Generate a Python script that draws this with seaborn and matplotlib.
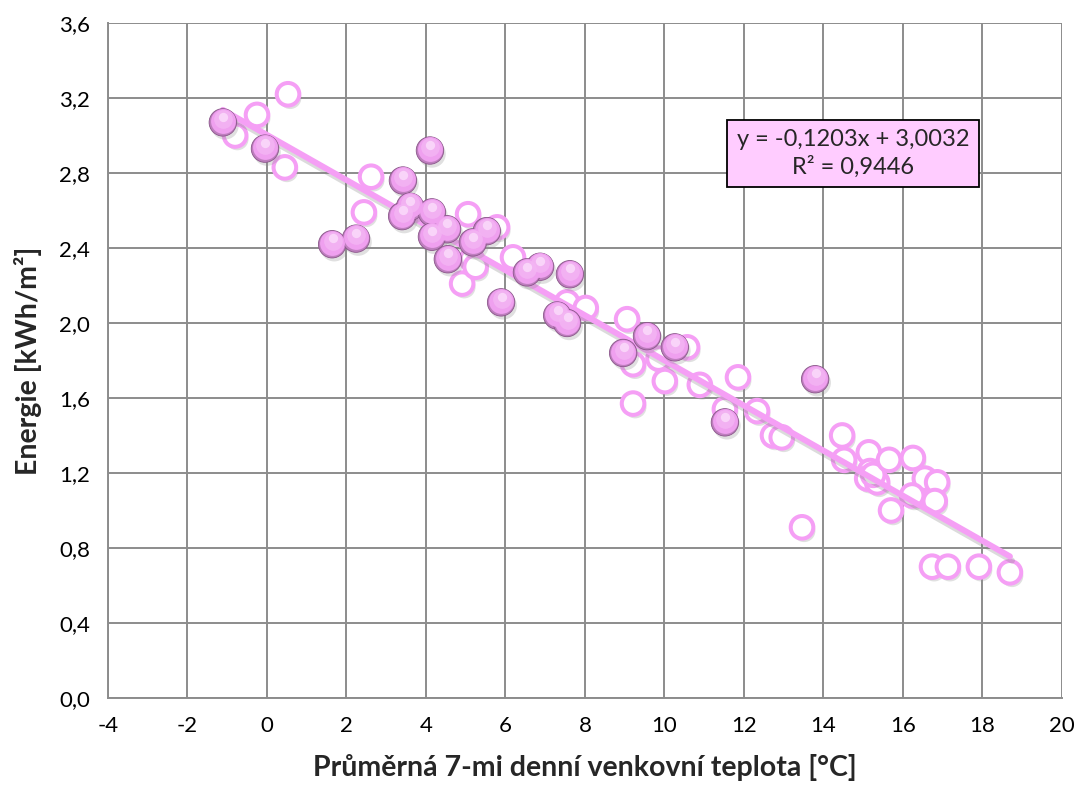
import matplotlib
matplotlib.use("Agg")
import matplotlib.pyplot as plt
import matplotlib.patheffects as pe
from matplotlib.transforms import offset_copy
import numpy as np
import pandas as pd
import seaborn as sns

# Measured weeks (filled spheres)
filled_t = [-1.11, -0.05, 4.10, 3.42, 3.40, 3.60, 4.15, 4.53, 4.15, 5.18, 5.53, 4.55,
            1.64, 2.24, 5.89, 6.87, 6.54, 7.62, 7.30, 7.55, 8.96, 9.56, 10.26, 11.52, 13.79]
filled_e = [3.07, 2.93, 2.92, 2.76, 2.57, 2.62, 2.59, 2.50, 2.46, 2.43, 2.49, 2.34,
            2.42, 2.45, 2.11, 2.30, 2.27, 2.26, 2.04, 2.00, 1.84, 1.93, 1.87, 1.47, 1.70]

# Remaining weeks (open circles)
open_t = [0.53, -0.25, -0.80, 0.45, 2.62, 2.44, 5.06, 4.91, 5.15, 5.25, 5.79, 6.19,
          7.55, 8.02, 9.06, 9.21, 10.01, 9.21, 9.85, 10.57, 10.89, 11.85, 11.52, 12.33,
          12.73, 12.95, 14.47, 14.52, 15.14, 15.17, 15.10, 15.35, 15.25, 15.65, 16.25,
          16.55, 16.86, 16.23, 16.80, 15.70, 13.46, 16.73, 17.13, 17.91, 18.69]
open_e = [3.22, 3.11, 3.00, 2.83, 2.78, 2.59, 2.58, 2.21, 2.34, 2.30, 2.51, 2.35,
          2.11, 2.08, 2.02, 1.78, 1.69, 1.57, 1.81, 1.87, 1.67, 1.71, 1.54, 1.53,
          1.40, 1.39, 1.40, 1.27, 1.31, 1.21, 1.17, 1.15, 1.19, 1.27, 1.28,
          1.17, 1.15, 1.08, 1.05, 1.00, 0.91, 0.70, 0.70, 0.70, 0.67]

# Linear trend reported for the whole season
slope = -0.1203
intercept = 3.0032
r2 = 0.9446

x_ticks = list(range(-4, 21, 2))
y_ticks = [0.0, 0.4, 0.8, 1.2, 1.6, 2.0, 2.4, 2.8, 3.2, 3.6]

sns.set_theme(style="white")
plt.rcParams["font.family"] = ["Lato", "DejaVu Sans"]

pink = "#F59FF5"
grid_col = "#8C8C8C"

fig = plt.figure(figsize=(10.86, 7.94), dpi=100)
ax = fig.add_axes([0.0994, 0.121, 0.8785, 0.850])

df_f = pd.DataFrame({"t": filled_t, "e": filled_e})
df_o = pd.DataFrame({"t": open_t, "e": open_e})

shadow = [pe.SimplePatchShadow(offset=(1.5, -2.5), shadow_rgbFace="#909090", alpha=0.28), pe.Normal()]

# open circles
sns.scatterplot(data=df_o, x="t", y="e", ax=ax, s=265, facecolor="white",
                edgecolor=pink, linewidth=2.9, zorder=3, legend=False)
ax.collections[-1].set_path_effects(shadow)

# trend line over the temperature range of the data
all_t = np.array(filled_t + open_t)
tl = np.array([all_t.min(), all_t.max()])
df_l = pd.DataFrame({"t": tl, "e": slope * tl + intercept})
sns.lineplot(data=df_l, x="t", y="e", ax=ax, color=pink, linewidth=4.3, zorder=4)
ax.lines[-1].set_path_effects([pe.SimpleLineShadow(offset=(1.5, -3), shadow_color="#808080", alpha=0.28), pe.Normal()])

# filled spheres: darker rim, lighter body, soft highlight on top
sns.scatterplot(data=df_f, x="t", y="e", ax=ax, s=390, color="#BE7EBE",
                edgecolor="#8A568A", linewidth=0.6, zorder=5, legend=False)
ax.collections[-1].set_path_effects(shadow)
light_tr = offset_copy(ax.transData, fig=fig, x=0.2, y=1.0, units="points")
ax.scatter(df_f["t"], df_f["e"], s=320, c="#EFA0EF", linewidths=0, zorder=6,
           transform=light_tr)
mid_tr = offset_copy(ax.transData, fig=fig, x=0.3, y=2.4, units="points")
ax.scatter(df_f["t"], df_f["e"], s=180, c="#F4B6F4", linewidths=0, zorder=7,
           transform=mid_tr, alpha=0.8)
hi_tr = offset_copy(ax.transData, fig=fig, x=0.3, y=4.2, units="points")
ax.scatter(df_f["t"], df_f["e"], s=45, c="#FCE0FC", linewidths=0, zorder=8,
           transform=hi_tr, alpha=0.75)

ax.set_xlim(-4, 20)
ax.set_ylim(0, 3.6)
ax.set_xticks(x_ticks)
ax.set_yticks(y_ticks)
ax.set_xticklabels([str(v) for v in x_ticks])
ax.set_yticklabels([f"{v:.1f}".replace(".", ",") for v in y_ticks])
ax.tick_params(axis="both", labelsize=16, labelcolor="black", color=grid_col,
               length=6, width=1.3, direction="out", pad=7)
ax.grid(True, color=grid_col, linewidth=1.4)
ax.set_axisbelow(True)
for side in ("top", "right"):
    ax.spines[side].set_visible(False)
for side in ("left", "bottom"):
    ax.spines[side].set_color(grid_col)
    ax.spines[side].set_linewidth(1.4)

ax.set_xlabel("Průměrná 7-mi denní venkovní teplota [°C]", fontsize=20.5,
              fontweight="bold", labelpad=13)
ax.set_ylabel("Energie [kWh/m²]", fontsize=20.5, fontweight="bold", labelpad=12)

eq = f"y = {slope:.4f}x + {intercept:.4f}\nR² = {r2:.4f}".replace(".", ",")
ax.text(0.781, 0.807, eq, transform=ax.transAxes, ha="center", va="center",
        fontsize=17, linespacing=1.3, zorder=9,
        bbox=dict(boxstyle="square,pad=0.4", facecolor="#FFCCFF",
                  edgecolor="black", linewidth=1.3))

fig.savefig("out.png", dpi=100)
